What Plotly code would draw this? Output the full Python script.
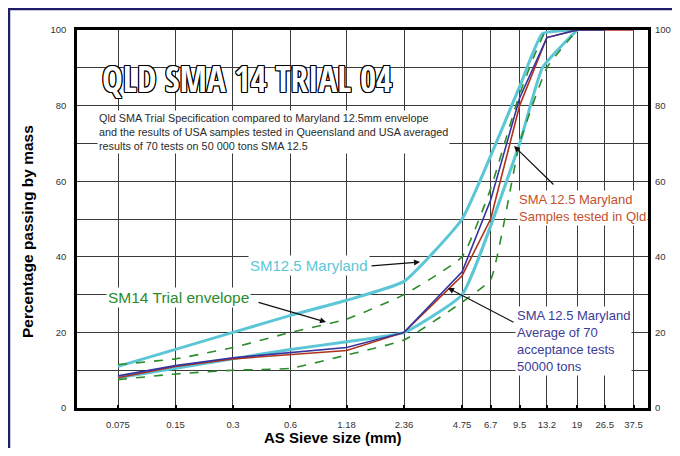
import plotly.graph_objects as go
import math

# ---------------- data ----------------
sieve_sizes = [0.075, 0.15, 0.3, 0.6, 1.18, 2.36, 4.75, 6.7, 9.5, 13.2, 19, 26.5, 37.5]
sieve_labels = ["0.075", "0.15", "0.3", "0.6", "1.18", "2.36", "4.75", "6.7", "9.5", "13.2", "19", "26.5", "37.5"]

maryland_sieves = [0.075, 0.15, 0.3, 0.6, 1.18, 2.36, 4.75, 9.5, 12.5, 19]
maryland_upper = [11, 15.5, 20, 24.5, 28.5, 33.5, 50, 85, 99, 100]
maryland_lower = [8, 10.5, 13, 15.5, 17.5, 20, 30, 70, 90, 100]

trial_sieves = [0.075, 0.15, 0.3, 0.6, 1.18, 2.36, 4.75, 6.7, 9.5, 13.2, 19]
trial_upper = [11.5, 13, 16, 20, 23.5, 30, 40, 58, 83, 100, 100]
trial_lower = [7.5, 9, 10, 10.5, 14, 18, 28, 34, 70, 90, 100]

qld_sieves = [0.075, 0.15, 0.3, 0.6, 1.18, 2.36, 4.75, 6.7, 9.5, 13.2, 19, 26.5, 37.5]
qld_samples = [8, 11, 13, 14.2, 15.2, 20, 35, 50, 80, 98, 100, 100, 100]

avg_sieves = [0.075, 0.15, 0.3, 0.6, 1.18, 2.36, 4.75, 6.7, 9.5, 13.2, 19, 26.5]
avg_70_tests = [8.5, 11.2, 13.3, 14.7, 16, 20, 36, 55, 82, 98, 100, 100]

y_ticks = [0, 10, 20, 30, 40, 50, 60, 70, 80, 90, 100]
y_ticktext = ["0", "", "20", "", "40", "", "60", "", "80", "", "100"]
y2_ticks = [0, 20, 40, 60, 80, 100]

# ---------------- style ----------------
CYAN = "#5BC6D6"
GREEN = "#2A8C2A"
RED = "#B0321E"
BLUE = "#34349E"
FONT = "Liberation Sans, Arial, sans-serif"
TITLE_FONT = "Open Sans Condensed, DejaVu Sans Condensed, Liberation Sans, sans-serif"

OFF = 8  # page body margin; figure sized so the page fits the window exactly
W, H = 680 - 2 * OFF, 456 - 2 * OFF
ML, MT = 77 - OFF, 30 - OFF
MR = W - (648 - OFF)
MB = H - (408 - OFF)
PW, PH = W - ML - MR, H - MT - MB


def px(x):
    return (x - OFF - ML) / PW


def py(y):
    return (H - MB - (y - OFF)) / PH


fig = go.Figure()

for ys in (maryland_upper, maryland_lower):
    fig.add_trace(go.Scatter(x=maryland_sieves, y=ys, mode="lines",
                             line=dict(color=CYAN, width=3, shape="spline", smoothing=0.4),
                             showlegend=False, hoverinfo="skip"))
for ys in (trial_upper, trial_lower):
    fig.add_trace(go.Scatter(x=trial_sieves, y=ys, mode="lines",
                             line=dict(color=GREEN, width=1.6, dash="dash", shape="spline", smoothing=0.4),
                             showlegend=False, hoverinfo="skip"))
fig.add_trace(go.Scatter(x=qld_sieves, y=qld_samples, mode="lines",
                         line=dict(color=RED, width=1.6), showlegend=False, hoverinfo="skip"))
fig.add_trace(go.Scatter(x=avg_sieves, y=avg_70_tests, mode="lines",
                         line=dict(color=BLUE, width=1.6), showlegend=False, hoverinfo="skip"))
fig.add_trace(go.Scatter(x=qld_sieves, y=qld_samples, mode="lines", yaxis="y2",
                         line=dict(width=0), opacity=0, showlegend=False, hoverinfo="skip"))

PX_PER_DECADE = 191.0
x_left = math.log10(0.075) - 41 / PX_PER_DECADE
xr = [x_left, x_left + PW / PX_PER_DECADE]

tickfont = dict(size=9.5, family=FONT, color="#333")
fig.update_layout(
    width=W, height=H, autosize=False,
    margin=dict(l=ML, r=MR, t=MT, b=MB, autoexpand=False),
    paper_bgcolor="white", plot_bgcolor="white",
    font=dict(family=FONT, color="#333333"),
    xaxis=dict(type="log", range=xr, tickvals=sieve_sizes, ticktext=sieve_labels,
               showgrid=True, gridcolor="#3a3a3a", gridwidth=1.2, automargin=False,
               showline=True, linecolor="black", linewidth=2.5, mirror=True,
               ticks="inside", ticklen=3, tickwidth=2, tickcolor="black",
               ticklabelstandoff=6, tickfont=tickfont, zeroline=False),
    yaxis=dict(range=[0, 100], tickvals=y_ticks, ticktext=y_ticktext,
               showgrid=True, gridcolor="#3a3a3a", gridwidth=1.2, automargin=False,
               showline=True, linecolor="black", linewidth=2.5, mirror=True,
               ticks="", ticklabelstandoff=6, tickfont=tickfont, zeroline=False),
    yaxis2=dict(range=[0, 100], overlaying="y", side="right", tickvals=y2_ticks,
                showgrid=False, zeroline=False, showline=False, ticks="", automargin=False,
                ticklabelstandoff=6, tickfont=tickfont),
)

outline = ("1px 0 0 #000, -1px 0 0 #000, 0 1px 0 #000, 0 -1px 0 #000, "
           "1px 1px 0 #000, -1px -1px 0 #000, 1px -1px 0 #000, -1px 1px 0 #000")

ann = []
ann.append(dict(x=px(100), y=py(78), xref="paper", yref="paper", xanchor="left", yanchor="middle",
                text="QLD SMA 14 TRIAL 04", showarrow=False,
                font=dict(family=TITLE_FONT, size=35, color="white", shadow=outline, weight="bold")))
ann.append(dict(x=px(97), y=py(132), xref="paper", yref="paper", xanchor="left", yanchor="middle",
                text=("Qld SMA Trial Specification compared to Maryland 12.5mm envelope<br>"
                      "and the results of USA samples tested in Queensland and USA averaged<br>"
                      "results of 70 tests on 50 000 tons SMA 12.5"),
                align="left", showarrow=False, bgcolor="white",
                font=dict(family=FONT, size=10.8, color="#2a2a2a")))
ann.append(dict(x=px(248), y=py(265), xref="paper", yref="paper", xanchor="left", yanchor="middle",
                text="SM12.5 Maryland", showarrow=False, bgcolor="white",
                font=dict(family=FONT, size=15, color=CYAN)))
ann.append(dict(x=px(106), y=py(297), xref="paper", yref="paper", xanchor="left", yanchor="middle",
                text="SM14 Trial envelope", showarrow=False, bgcolor="white",
                font=dict(family=FONT, size=15.5, color=GREEN)))
ann.append(dict(x=px(517), y=py(208), xref="paper", yref="paper", xanchor="left", yanchor="middle",
                text="SMA 12.5 Maryland<br>Samples tested in Qld", align="left",
                showarrow=False, bgcolor="white",
                font=dict(family=FONT, size=13, color="#C4502C")))
ann.append(dict(x=px(515), y=py(341), xref="paper", yref="paper", xanchor="left", yanchor="middle",
                text="SMA 12.5 Maryland<br>Average of 70<br>acceptance tests<br>50000 tons", align="left",
                showarrow=False, bgcolor="white",
                font=dict(family=FONT, size=13, color="#3C3C98")))
for tip, tail in (((514, 146), (555, 186)), ((448, 288), (515, 323)),
                  ((420, 262), (370, 266)), ((326, 322), (257, 302))):
    ann.append(dict(x=px(tip[0]), y=py(tip[1]), xref="paper", yref="paper", text="",
                    showarrow=True, ax=tail[0] - tip[0], ay=tail[1] - tip[1],
                    arrowhead=2, arrowsize=1, arrowwidth=1.2, arrowcolor="#111"))
ann.append(dict(x=px(333), y=py(448), xref="paper", yref="paper", xanchor="center", yanchor="bottom",
                text="<b>AS Sieve size (mm)</b>", showarrow=False,
                font=dict(family=FONT, size=15, color="black")))
ann.append(dict(x=px(27), y=py(232), xref="paper", yref="paper", xanchor="center", yanchor="middle",
                text="<b>Percentage passing by mass</b>", showarrow=False, textangle=-90,
                font=dict(family=FONT, size=15.5, color="black")))
fig.update_layout(annotations=ann)

fig.add_shape(type="rect", xref="paper", yref="paper", x0=px(9), x1=px(720), y0=py(500), y1=py(9),
              line=dict(color="#1E1E6A", width=2.5), fillcolor="rgba(0,0,0,0)", layer="above")

fig.write_html("out.html")
